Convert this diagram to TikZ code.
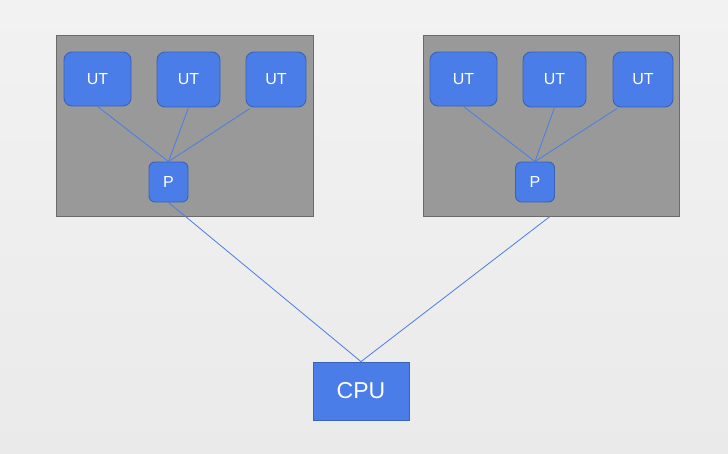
\documentclass[tikz,border=0pt]{standalone}
\usepackage{fontspec}
\setmainfont{Liberation Sans}
\definecolor{bgtop}{HTML}{F2F2F2}
\definecolor{bgbot}{HTML}{EAEAEA}
\definecolor{boxfill}{HTML}{999999}
\definecolor{boxdraw}{HTML}{6A6A6A}
\definecolor{ublue}{HTML}{4A7DE8}
\definecolor{ubdraw}{HTML}{3A62B5}
\definecolor{linec}{HTML}{4A7DE8}
\tikzset{
  panel/.style={draw=boxdraw, fill=boxfill, line width=0.9pt, inner sep=0pt},
  utbox/.style={draw=ubdraw, fill=ublue, rounded corners=8pt, line width=0.9pt, inner sep=0pt, text=white, font=\fontsize{16}{18}\selectfont},
  pbox/.style={draw=ubdraw, fill=ublue, rounded corners=6pt, line width=0.9pt, inner sep=0pt, text=white, minimum width=39pt, minimum height=40pt, font=\fontsize{16}{18}\selectfont},
  cpubox/.style={draw=ubdraw, fill=ublue, line width=0.8pt, inner sep=0pt, text=white, minimum width=96pt, minimum height=58pt, font=\fontsize{23}{26}\selectfont},
  wire/.style={draw=linec, line width=0.8pt}
}
\begin{document}
\begin{tikzpicture}[x=1pt,y=-1pt]
\useasboundingbox (0,0) rectangle (728,453);
\shade[top color=bgtop, bottom color=bgbot] (0,0) rectangle (728,453);
% panels
\node[panel, minimum width=257pt, minimum height=181pt] (lbox) at (184.5,125.5) {};
\node[panel, minimum width=256pt, minimum height=181pt] (rbox) at (551,125.5) {};
\path (rbox.south) ++(-1pt,0) coordinate (rcon);
\node[cpubox] (cpu) at (361,391) {CPU};
% left cluster
\node[utbox, minimum width=67pt, minimum height=54pt] (lu1) at (97.5,79) {UT};
\node[utbox, minimum width=63pt, minimum height=55pt] (lu2) at (188.5,79.5) {UT};
\node[utbox, minimum width=60pt, minimum height=55pt] (lu3) at (276,79.5) {UT};
\node[pbox] (lp) at (168.5,182) {P};
% right cluster
\node[utbox, minimum width=67pt, minimum height=54pt] (ru1) at (463.5,79) {UT};
\node[utbox, minimum width=63pt, minimum height=55pt] (ru2) at (554.5,79.5) {UT};
\node[utbox, minimum width=60pt, minimum height=55pt] (ru3) at (643,79.5) {UT};
\node[pbox] (rp) at (535,182) {P};
% wires
\path (lu3.south) ++(-26pt,-1pt) coordinate (lu3d);
\path (ru3.south) ++(-26pt,-1pt) coordinate (ru3d);
\foreach \u in {lu1,lu2}{\draw[wire] (\u.south) -- (lp.north);}
\draw[wire] (lu3d) -- (lp.north);
\foreach \u in {ru1,ru2}{\draw[wire] (\u.south) -- (rp.north);}
\draw[wire] (ru3d) -- (rp.north);
\draw[wire] (lp.south) -- (cpu.north);
\draw[wire] (rcon) -- (cpu.north);
\end{tikzpicture}
\end{document}
